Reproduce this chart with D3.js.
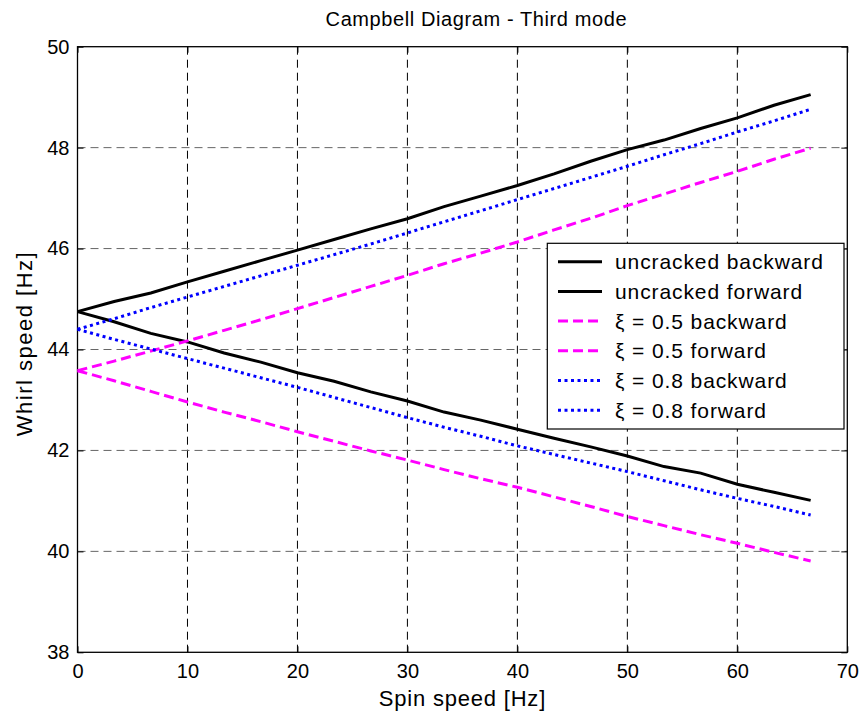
<!DOCTYPE html>
<html><head><meta charset="utf-8">
<script src="https://cdn.jsdelivr.net/npm/d3@7"></script>
<style>body{margin:0;background:#fff}svg{display:block;font-family:"Liberation Sans",Arial,sans-serif}</style>
</head><body><svg id="c" width="865" height="717"></svg>
<script>
const spin = [0,3.333,6.667,10,13.333,16.667,20,23.333,26.667,30,33.333,36.667,40,43.333,46.667,50,53.333,56.667,60,63.333,66.667];
const uncrackedBackward = [44.75,44.95,45.12,45.34,45.55,45.76,45.97,46.18,46.39,46.59,46.83,47.04,47.25,47.48,47.73,47.96,48.15,48.38,48.59,48.84,49.05];
const uncrackedForward = [44.75,44.55,44.32,44.15,43.93,43.75,43.54,43.37,43.16,42.98,42.76,42.60,42.42,42.24,42.07,41.89,41.68,41.55,41.33,41.17,41.01];
const xi05Backward = [43.58,43.77,43.97,44.17,44.38,44.59,44.81,45.03,45.25,45.47,45.70,45.91,46.13,46.37,46.60,46.85,47.08,47.31,47.53,47.77,47.99];
const xi05Forward = [43.58,43.38,43.17,42.96,42.76,42.57,42.37,42.18,41.99,41.81,41.62,41.44,41.27,41.08,40.89,40.69,40.51,40.33,40.16,39.98,39.81];
const xi08Backward = [44.40,44.61,44.83,45.04,45.25,45.46,45.67,45.88,46.09,46.31,46.53,46.75,46.97,47.19,47.41,47.63,47.86,48.08,48.31,48.53,48.76];
const xi08Forward = [44.40,44.20,44.01,43.82,43.63,43.44,43.25,43.05,42.85,42.65,42.46,42.28,42.09,41.92,41.75,41.58,41.40,41.22,41.05,40.89,40.72];
const xTicks = [0,10,20,30,40,50,60,70];
const yTicks = [38,40,42,44,46,48,50];
const legendLabels = ["uncracked backward","uncracked forward","\u03BE = 0.5 backward","\u03BE = 0.5 forward","\u03BE = 0.8 backward","\u03BE = 0.8 forward"];

const series = [
  {name:legendLabels[0], v:uncrackedBackward, color:"#000", dash:null},
  {name:legendLabels[1], v:uncrackedForward, color:"#000", dash:null},
  {name:legendLabels[2], v:xi05Backward, color:"#ff00ff", dash:"10,5"},
  {name:legendLabels[3], v:xi05Forward, color:"#ff00ff", dash:"10,5"},
  {name:legendLabels[4], v:xi08Backward, color:"#0000ff", dash:"3,3.5"},
  {name:legendLabels[5], v:xi08Forward, color:"#0000ff", dash:"3,3.5"}
];

const svg = d3.select("#c");
const L=77.5, R=847.3, T=46.7, B=652.3;
const x = d3.scaleLinear().domain([0,70]).range([L,R]);
const y = d3.scaleLinear().domain([38,50]).range([B,T]);

// grid
const g = svg.append("g");
g.selectAll(".vg").data(xTicks.slice(1,-1)).enter().append("line")
  .attr("x1",d=>x(d)).attr("x2",d=>x(d)).attr("y1",T).attr("y2",B)
  .attr("stroke","#000").attr("stroke-width",1).attr("stroke-dasharray","8,5");
g.selectAll(".hg").data(yTicks.slice(1,-1)).enter().append("line")
  .attr("x1",L).attr("x2",R).attr("y1",d=>y(d)).attr("y2",d=>y(d))
  .attr("stroke","#666").attr("stroke-width",1).attr("stroke-dasharray","8,5");

// axes
svg.append("g").attr("transform",`translate(0,${B})`)
  .call(d3.axisBottom(x).tickValues(xTicks).tickSize(-6).tickPadding(12));
svg.append("g").attr("transform",`translate(${L},0)`)
  .call(d3.axisLeft(y).tickValues(yTicks).tickSize(-6).tickPadding(8));
svg.append("g").attr("transform",`translate(0,${T})`)
  .call(d3.axisTop(x).tickValues(xTicks).tickSize(-6).tickFormat(""));
svg.append("g").attr("transform",`translate(${R},0)`)
  .call(d3.axisRight(y).tickValues(yTicks).tickSize(-6).tickFormat(""));
svg.selectAll(".domain").remove();
svg.selectAll(".tick line").attr("stroke","#000");
svg.selectAll(".tick text").attr("font-size",20).attr("font-family","Liberation Sans, Arial, sans-serif").attr("fill","#000");
svg.append("rect").attr("x",L).attr("y",T).attr("width",R-L).attr("height",B-T)
  .attr("fill","none").attr("stroke","#000").attr("stroke-width",1.3);

// lines
const line = d3.line().x((d,i)=>x(spin[i])).y(d=>y(d));
svg.selectAll(".series").data(series).enter().append("path")
  .attr("d",d=>line(d.v)).attr("fill","none").attr("stroke",d=>d.color)
  .attr("stroke-width",3).attr("stroke-dasharray",d=>d.dash);

// title & labels
svg.append("text").attr("x",(L+R)/2+14).attr("y",26).attr("text-anchor","middle")
  .attr("font-size",20).attr("letter-spacing",0.6).text("Campbell Diagram - Third mode");
svg.append("text").attr("x",(L+R)/2).attr("y",706).attr("text-anchor","middle")
  .attr("font-size",22).attr("letter-spacing",0.8).text("Spin speed [Hz]");
svg.append("text").attr("transform",`translate(32,${(T+B)/2-6}) rotate(-90)`).attr("text-anchor","middle")
  .attr("font-size",22).attr("letter-spacing",1.5).text("Whirl speed [Hz]");

// legend
const lg = svg.append("g");
lg.append("rect").attr("x",547.3).attr("y",243.3).attr("width",296.7).attr("height",185.7)
  .attr("fill","#fff").attr("stroke","#000").attr("stroke-width",1.2);
series.forEach((s,i)=>{
  const cy = 261.7 + i*29.7;
  lg.append("line").attr("x1",558).attr("x2",602).attr("y1",cy).attr("y2",cy)
    .attr("stroke",s.color).attr("stroke-width",3).attr("stroke-dasharray",s.dash);
  lg.append("text").attr("x",615).attr("y",cy+7.5).attr("font-size",21).attr("letter-spacing",0.9).text(s.name);
});
</script></body></html>
